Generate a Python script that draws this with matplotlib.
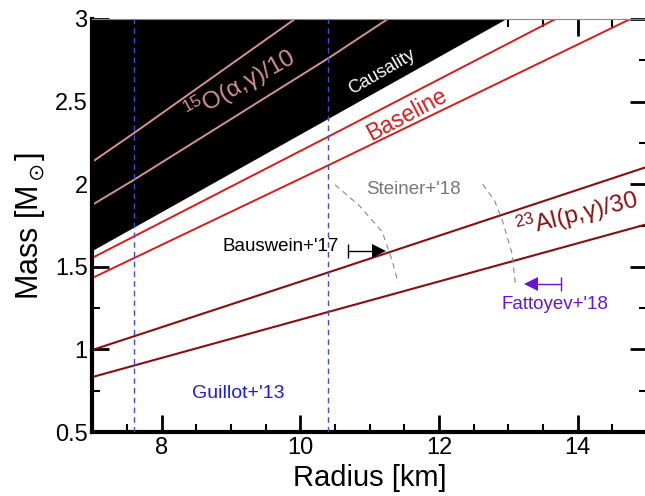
import matplotlib
matplotlib.use("Agg")
import matplotlib.pyplot as plt
from matplotlib.ticker import MultipleLocator

plt.rcParams["font.family"] = ["Liberation Sans", "DejaVu Sans"]
plt.rcParams["mathtext.fontset"] = "custom"
plt.rcParams["mathtext.rm"] = "Liberation Sans"
plt.rcParams["mathtext.it"] = "Liberation Sans:italic"
plt.rcParams["mathtext.default"] = "regular"

# mass-radius lines (R in km, M in Msun)
caus_R = [7.0, 12.96]
caus_M = [1.60, 3.0]

o15_hi_R = [7.0, 7.6, 9.92]
o15_hi_M = [2.136, 2.31, 3.0]
o15_lo_R = [7.0, 7.6, 10.43, 11.26]
o15_lo_M = [1.876, 2.027, 2.77, 3.0]

base_hi_R = [7.0, 10.43, 13.68]
base_hi_M = [1.555, 2.294, 3.0]
base_lo_R = [7.0, 10.43, 14.76]
base_lo_M = [1.433, 2.12, 3.0]

al23_hi_R = [7.0, 10.43, 15.0]
al23_hi_M = [0.997, 1.47, 2.105]
al23_lo_R = [7.0, 10.43, 15.0]
al23_lo_M = [0.833, 1.23, 1.758]

guillot_R = [7.6, 10.4]

steiner1_R = [10.50, 10.85, 11.18, 11.32, 11.41]
steiner1_M = [1.997, 1.87, 1.712, 1.542, 1.403]
steiner2_R = [12.63, 12.80, 12.91, 13.05, 13.10]
steiner2_M = [2.00, 1.90, 1.785, 1.585, 1.403]

bausw_R = [10.69, 11.22]
bausw_M = 1.597
fatt_R = [13.76, 13.24]
fatt_M = 1.397

pink = "#d69292"
red = "#dd1a1a"
dred = "#8b0d0d"
purple = "#6a14d2"

fig = plt.figure(figsize=(6.45, 4.96), dpi=100)
ax = fig.add_axes([0.1434, 0.129, 0.8597, 0.8327])

ax.fill_between(caus_R, caus_M, 3.0, color="black", lw=0, zorder=1)

ax.plot(o15_hi_R, o15_hi_M, color=pink, lw=1.4, zorder=2)
ax.plot(o15_lo_R, o15_lo_M, color=pink, lw=1.4, zorder=2)
ax.plot(base_hi_R, base_hi_M, color=red, lw=1.4, zorder=2)
ax.plot(base_lo_R, base_lo_M, color=red, lw=1.4, zorder=2)
ax.plot(al23_hi_R, al23_hi_M, color=dred, lw=1.5, zorder=2)
ax.plot(al23_lo_R, al23_lo_M, color=dred, lw=1.5, zorder=2)

for r in guillot_R:
    ax.axvline(r, color="#4a4ad8", lw=1.0, ls=(0, (4, 3)), zorder=3)

ax.plot(steiner1_R, steiner1_M, color="#888888", lw=0.8, ls=(0, (5, 4)), zorder=2)
ax.plot(steiner2_R, steiner2_M, color="#888888", lw=0.8, ls=(0, (5, 4)), zorder=2)

# Bauswein+'17 lower limit
ax.plot([bausw_R[0], bausw_R[1] - 0.1], [bausw_M, bausw_M], color="black", lw=1.0, zorder=4)
ax.plot(bausw_R[0], bausw_M, marker="|", ms=10, mew=1.0, color="black", zorder=4)
ax.plot(bausw_R[1] - 0.09, bausw_M, marker=">", ms=10, color="black", mew=0, zorder=4)

# Fattoyev+'18 upper limit
ax.plot([fatt_R[0], fatt_R[1] + 0.1], [fatt_M, fatt_M], color=purple, lw=1.0, zorder=4)
ax.plot(fatt_R[0], fatt_M, marker="|", ms=10, mew=1.0, color=purple, zorder=4)
ax.plot(fatt_R[1] + 0.09, fatt_M, marker="<", ms=10, color=purple, mew=0, zorder=4)

ax.text(9.13, 2.60, r"$^{15}$O($\alpha$,$\gamma$)/10", color=pink, fontsize=17.5,
        rotation=29, ha="center", va="center", zorder=5)
ax.text(11.18, 2.676, "Causality", color="white", fontsize=13,
        rotation=30, ha="center", va="center", zorder=5)
ax.text(11.54, 2.42, "Baseline", color=red, fontsize=16.5,
        rotation=28, ha="center", va="center", zorder=5)
ax.text(11.63, 1.97, "Steiner+'18", color="#777777", fontsize=13.5,
        ha="center", va="center", zorder=5)
ax.text(13.99, 1.815, r"$^{23}$Al(p,$\gamma$)/30", color=dred, fontsize=17.5,
        rotation=14, ha="center", va="center", zorder=5)
ax.text(9.71, 1.62, "Bauswein+'17", color="black", fontsize=13.5,
        ha="center", va="center", zorder=5)
ax.text(13.67, 1.27, "Fattoyev+'18", color=purple, fontsize=13.5,
        ha="center", va="center", zorder=5)
ax.text(9.10, 0.736, "Guillot+'13", color="#1a1aee", fontsize=14,
        ha="center", va="center", zorder=5)

ax.set_xlim(7, 15)
ax.set_ylim(0.5, 3)
ax.xaxis.set_major_locator(MultipleLocator(2))
ax.xaxis.set_minor_locator(MultipleLocator(0.5))
ax.yaxis.set_major_locator(MultipleLocator(0.5))
ax.yaxis.set_minor_locator(MultipleLocator(0.25))
ax.tick_params(which="both", direction="in", top=True, right=True, labelsize=17)
ax.tick_params(which="major", length=12, width=2)
ax.tick_params(which="minor", length=6, width=1.5)
ax.set_yticks([0.5, 1, 1.5, 2, 2.5, 3])
ax.set_yticklabels(["0.5", "1", "1.5", "2", "2.5", "3"])

for s in ["left", "bottom"]:
    ax.spines[s].set_linewidth(3)
ax.spines["top"].set_linewidth(0.8)
ax.spines["top"].set_color("#888888")
ax.spines["right"].set_linewidth(2)

ax.set_xlabel("Radius [km]", fontsize=21, labelpad=4)
ax.set_ylabel(r"Mass [M$_\odot$]", fontsize=22, labelpad=6)

fig.savefig("out.png", dpi=100)
